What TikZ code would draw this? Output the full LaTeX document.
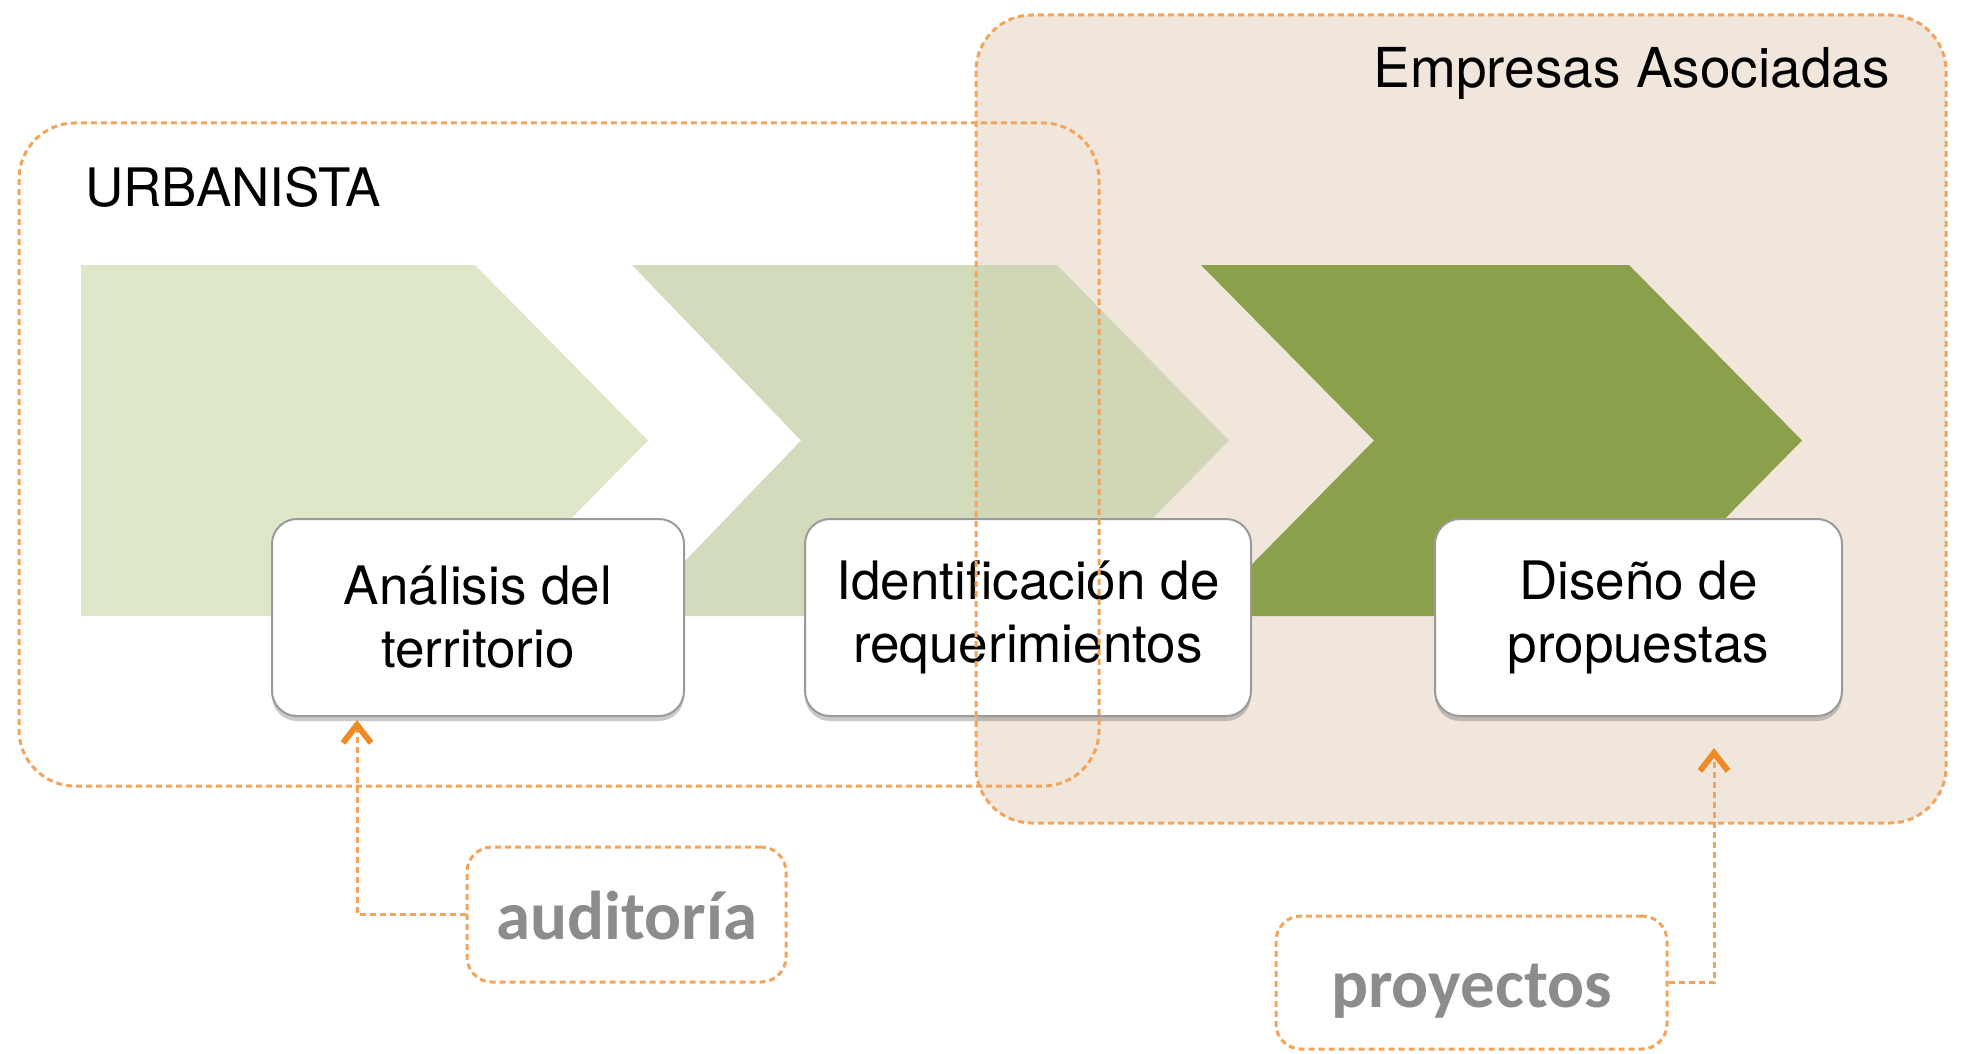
\documentclass[tikz,border=0pt]{standalone}
\usepackage{fontspec}
\setmainfont{TeX Gyre Heros}
\newfontfamily\labelfont{Carlito}
\usetikzlibrary{arrows.meta,shadows,calc}
\definecolor{empfill}{HTML}{F1E6DC}
\definecolor{dashor}{HTML}{F3A45A}
\definecolor{arrowor}{HTML}{F08A24}
\definecolor{chevA}{HTML}{DEE8C8}
\definecolor{chevB}{HTML}{CBD5B1}
\definecolor{chevC}{HTML}{8BA04B}
\definecolor{boxedge}{HTML}{9A9A9A}
\definecolor{tagtext}{HTML}{8C8C8C}
\begin{document}
\begin{tikzpicture}[x=1pt,y=-1pt,
  region/.style={rounded corners=56pt, draw=dashor, line width=3pt, dash pattern=on 6pt off 4pt},
  stepbox/.style={draw=boxedge, line width=2pt, fill=white, rounded corners=25pt, minimum height=197pt, align=center, inner sep=0pt, font=\fontsize{53}{63}\selectfont, drop shadow={shadow xshift=0pt, shadow yshift=-5pt, opacity=0.35, fill=black!60}},
  tagbox/.style={draw=dashor, line width=3pt, dash pattern=on 6pt off 4pt, rounded corners=25pt, inner sep=0pt, text height=50pt, text depth=0pt, font=\labelfont\bfseries\fontsize{69}{80}\selectfont, text=tagtext},
  link/.style={draw=dashor, line width=3pt, dash pattern=on 6pt off 4pt, -{Straight Barb[length=18pt,width=28pt,line width=6pt,color=arrowor]}},
  title/.style={inner sep=0pt, font=\fontsize{53}{63}\selectfont},
]
\useasboundingbox (0,0) rectangle (1962,1054);
% Empresas Asociadas background
\fill[empfill, rounded corners=56pt] (976,15) rectangle (1946,823);
% chevrons
\fill[chevA] (81,265) -- (475,265) -- (648,440.5) -- (475,616) -- (81,616) -- cycle;
\fill[chevB, opacity=0.85] (632,265) -- (1057,265) -- (1229,440.5) -- (1057,616) -- (632,616) -- (801,440.5) -- cycle;
\fill[chevC] (1201,265) -- (1629,265) -- (1802,440.5) -- (1629,616) -- (1201,616) -- (1374,440.5) -- cycle;
% step boxes
\node[stepbox, minimum width=412pt] (s1) at (478,617.5) {Análisis del\\territorio};
\node[stepbox, minimum width=446pt] (s2) at (1028,617.5) {Identificación de\\requerimientos};
\node[stepbox, minimum width=407pt] (s3) at (1638.5,617.5) {Diseño de\\propuestas};
% region borders
\draw[region] (19,123) rectangle (1099,786);
\draw[region] (976,15) rectangle (1946,823);
% titles
\node[title, anchor=base west] (urb) at (85,206) {URBANISTA};
\node[title, anchor=base east, font=\fontsize{55}{65}\selectfont] (emp) at (1890,88) {Empresas Asociadas};
% tags
\node[tagbox, minimum width=319pt, minimum height=135pt] (aud) at (626.5,914.5) {auditoría};
\node[tagbox, minimum width=391pt, minimum height=133pt] (proj) at (1471.5,982.5) {proyectos};
\coordinate (a1) at (357,720);
\coordinate (a2) at (1714,748);
\draw[link] (aud.west) -| (a1);
\draw[link] (proj.east) -| (a2);
\end{tikzpicture}
\end{document}
